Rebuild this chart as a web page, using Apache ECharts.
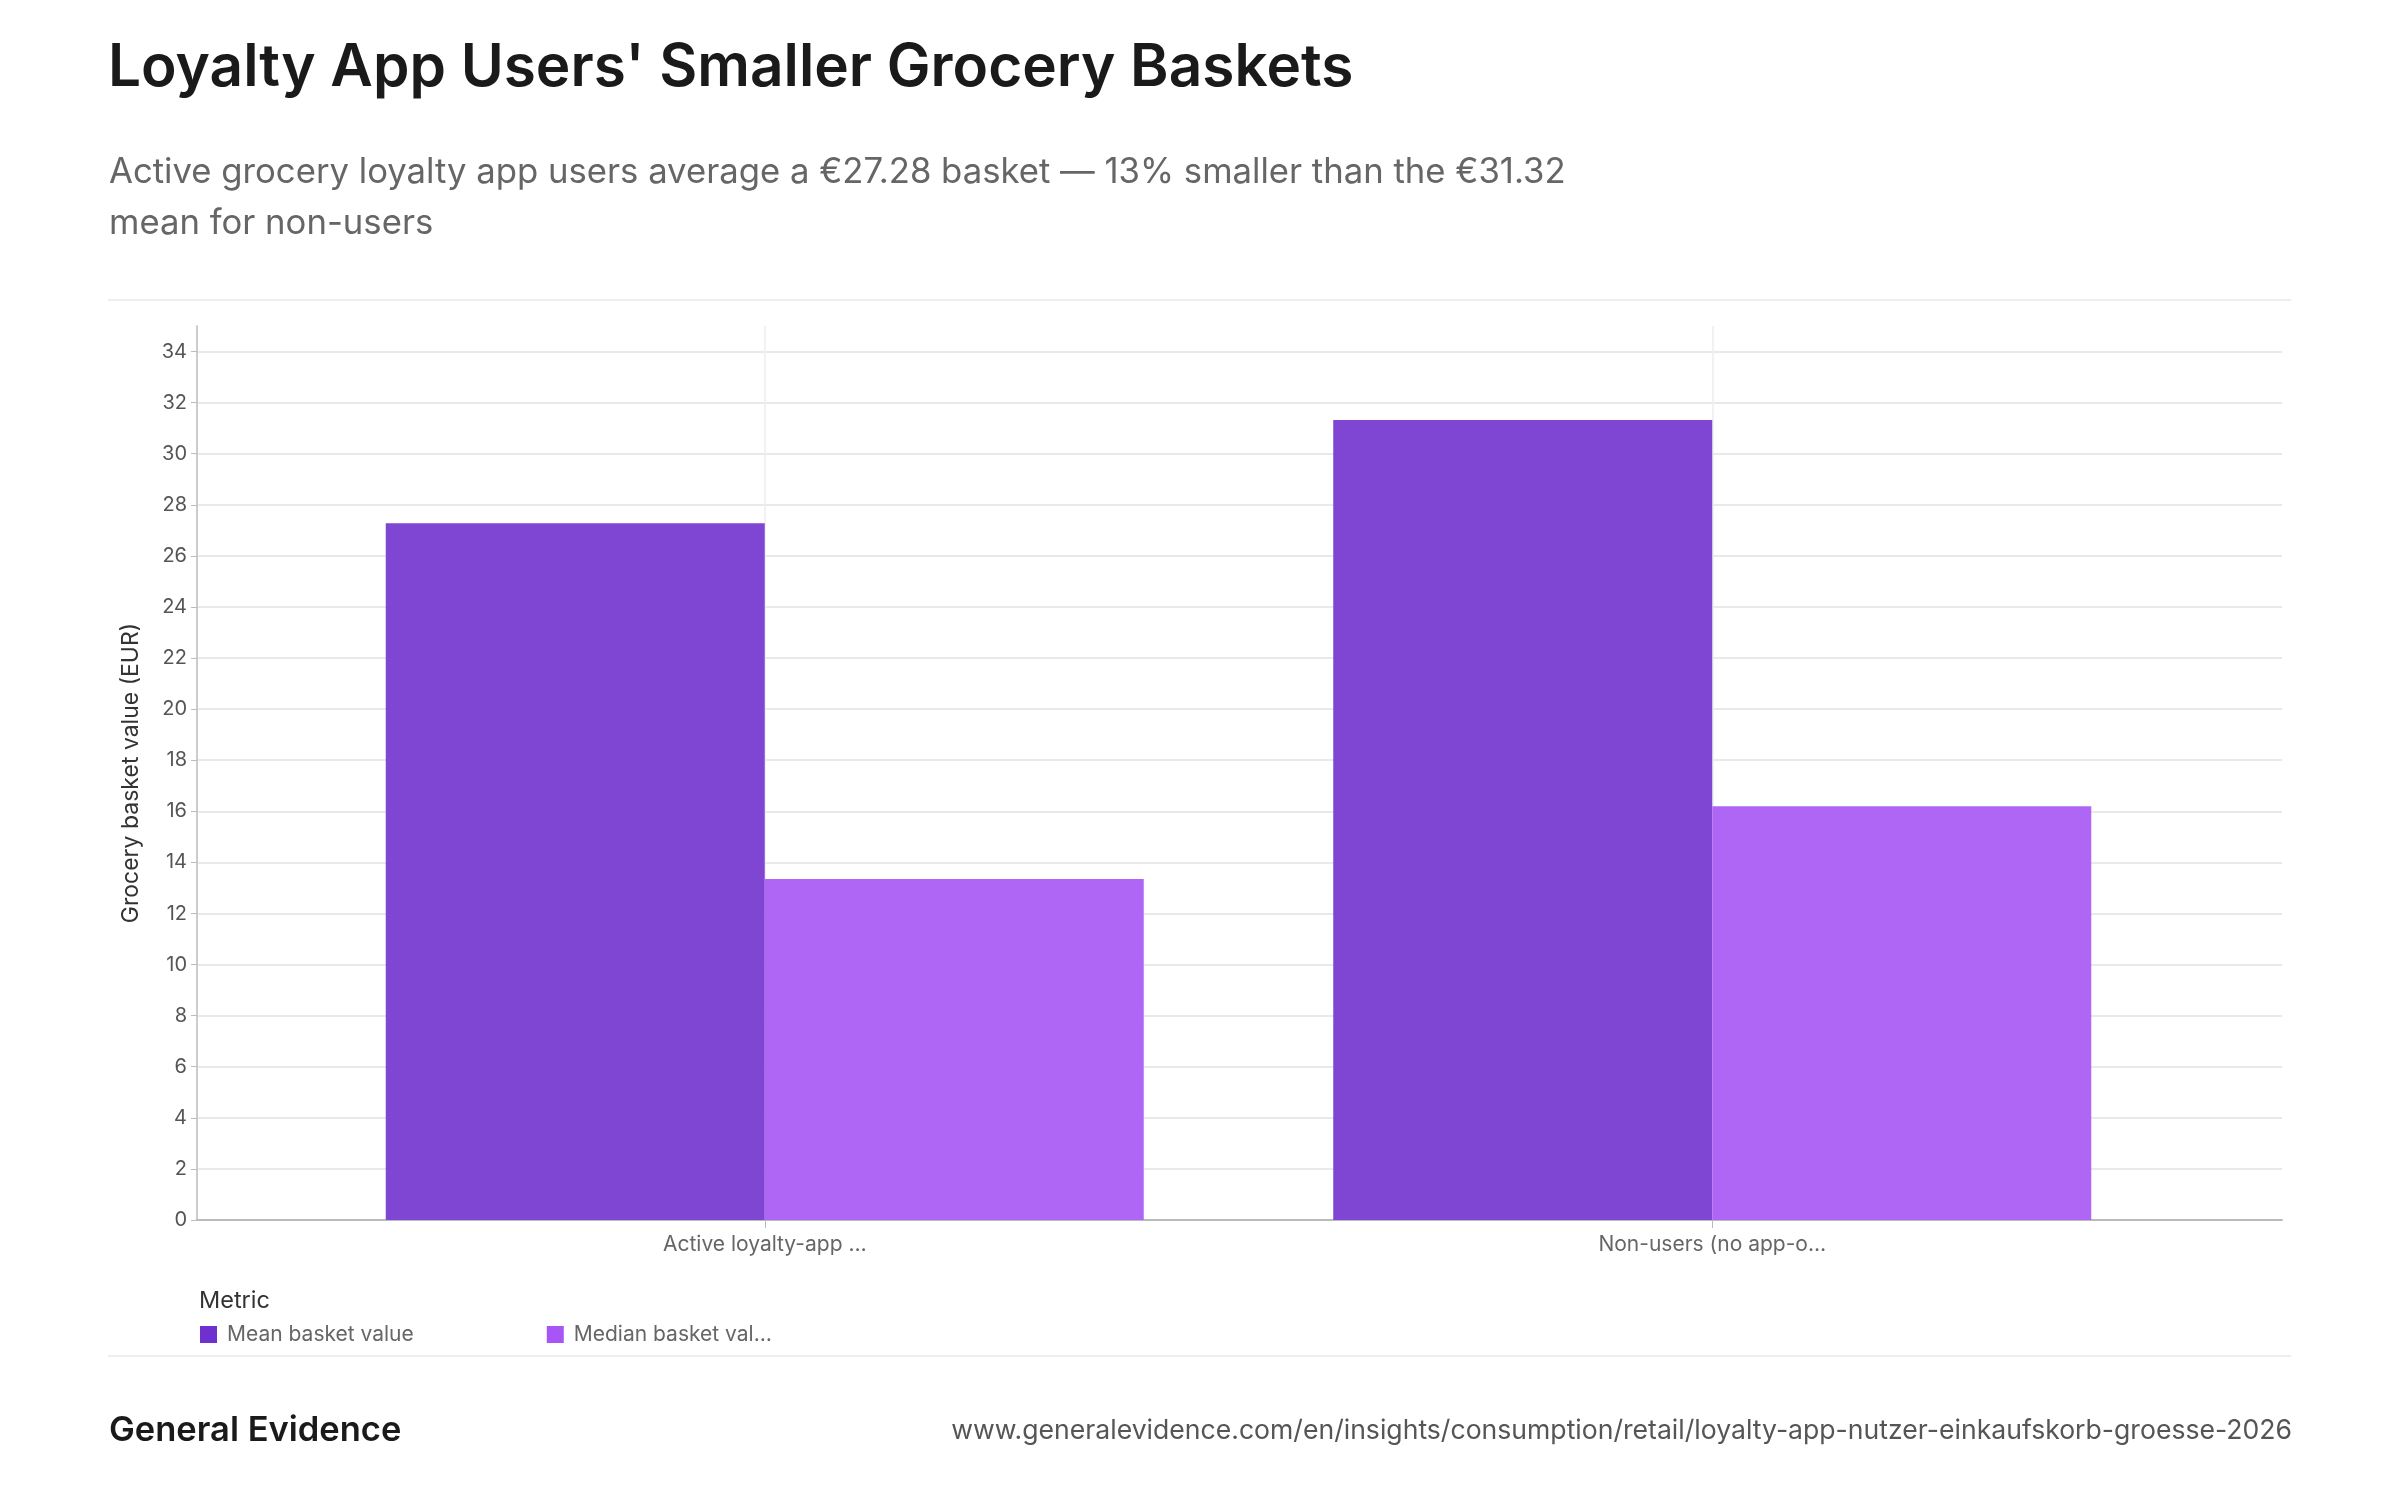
<!DOCTYPE html>
<html>
<head>
<meta charset="utf-8">
<script src="https://cdn.jsdelivr.net/npm/echarts@6/dist/echarts.min.js"></script>
<style>
html,body{margin:0;padding:0;background:#fff;}
#c{width:2400px;height:1500px;}
</style>
</head>
<body>
<div id="c"></div>
<script>
const categories = ["Active loyalty-app users", "Non-users (no app-or card use)"];
const seriesNames = ["Mean basket value", "Median basket value"];
const meanValues = [27.28, 31.32];
const medianValues = [13.35, 16.2];
const yTicks = {min: 0, max: 35, interval: 2};

const FONT = "Inter, 'DejaVu Sans', sans-serif";
const barColors = ['#7f45d3', '#b066f5'];
const legendColors = ['#6e31d0', '#a855f7'];

function trunc(s, n) { return s.length > n + 1 ? s.slice(0, n) + '…' : s; }

const chart = echarts.init(document.getElementById('c'), null, {renderer: 'canvas'});
chart.setOption({
  backgroundColor: '#fff',
  animation: false,
  textStyle: {fontFamily: FONT},
  title: [
    {text: "Loyalty App Users' Smaller Grocery Baskets", left: 103, top: 34,
     textStyle: {fontFamily: FONT, fontSize: 58.5, fontWeight: 600, color: '#1a1a1a'}},
    {text: "Active grocery loyalty app users average a €27.28 basket — 13% smaller than the €31.32\nmean for non-users",
     left: 104, top: 142,
     textStyle: {fontFamily: FONT, fontSize: 34.7, fontWeight: 400, color: '#666', lineHeight: 51}},
    {text: 'Metric', left: 194, top: 1284,
     textStyle: {fontFamily: FONT, fontSize: 23.5, fontWeight: 400, color: '#333'}},
    {text: 'General Evidence', left: 104, top: 1408,
     textStyle: {fontFamily: FONT, fontSize: 34.5, fontWeight: 600, color: '#1a1a1a'}},
    {text: 'www.generalevidence.com/en/insights/consumption/retail/loyalty-app-nutzer-einkaufskorb-groesse-2026',
     right: 103, top: 1412,
     textStyle: {fontFamily: FONT, fontSize: 26.6, fontWeight: 400, color: '#555'}}
  ],
  graphic: [
    {type: 'line', shape: {x1: 108, y1: 300, x2: 2291, y2: 300}, style: {stroke: '#eeeeee', lineWidth: 2}},
    {type: 'line', shape: {x1: 108, y1: 1356, x2: 2291, y2: 1356}, style: {stroke: '#eeeeee', lineWidth: 2}}
  ],
  legend: {
    left: 195, top: 1319, itemWidth: 17, itemHeight: 17, itemGap: 133, icon: 'rect',
    data: seriesNames.map((n, i) => ({name: n, itemStyle: {color: legendColors[i]}})),
    formatter: n => trunc(n, 17),
    textStyle: {fontFamily: FONT, fontSize: 21, color: '#666', width: 195, padding: [0, 0, 0, 5]}
  },
  grid: [
    {left: 197, right: 118, top: 326, bottom: 280},
    {left: 291, right: 214, top: 326, bottom: 280}
  ],
  xAxis: [
    {gridIndex: 0, type: 'value', min: 0, max: 1,
     axisLine: {show: true, onZero: false, lineStyle: {color: '#bbbbbb', width: 2}},
     axisTick: {show: false}, axisLabel: {show: false}, splitLine: {show: false}},
    {gridIndex: 1, type: 'category', data: categories, boundaryGap: true,
     axisLine: {show: false},
     axisTick: {show: true, alignWithLabel: true, length: 8, lineStyle: {color: '#bbbbbb', width: 1}},
     splitLine: {show: true, alignWithLabel: true, lineStyle: {color: '#eeeeee', width: 1.5}},
     axisLabel: {fontFamily: FONT, fontSize: 21, color: '#666', margin: 14, formatter: s => trunc(s, 19)}}
  ],
  yAxis: [
    {gridIndex: 0, type: 'value', min: yTicks.min, max: yTicks.max, interval: yTicks.interval,
     name: 'Grocery basket value (EUR)', nameLocation: 'middle', nameGap: 54,
     nameTextStyle: {fontFamily: FONT, fontSize: 23, color: '#333'},
     axisLine: {show: true, lineStyle: {color: '#cccccc', width: 2}},
     axisTick: {show: true, length: 6, lineStyle: {color: '#bbbbbb'}},
     axisLabel: {fontFamily: FONT, fontSize: 20, color: '#555', margin: 10, showMaxLabel: false},
     splitLine: {show: true, showMaxLine: false, lineStyle: {color: '#e9e9e9', width: 2}}},
    {gridIndex: 1, type: 'value', min: yTicks.min, max: yTicks.max, show: false, splitLine: {show: false}}
  ],
  series: [
    {name: seriesNames[0], type: 'bar', xAxisIndex: 1, yAxisIndex: 1, data: meanValues,
     barGap: '0%', barCategoryGap: '20%', itemStyle: {color: barColors[0]}},
    {name: seriesNames[1], type: 'bar', xAxisIndex: 1, yAxisIndex: 1, data: medianValues,
     barGap: '0%', barCategoryGap: '20%', itemStyle: {color: barColors[1]}}
  ]
});
</script>
</body>
</html>
